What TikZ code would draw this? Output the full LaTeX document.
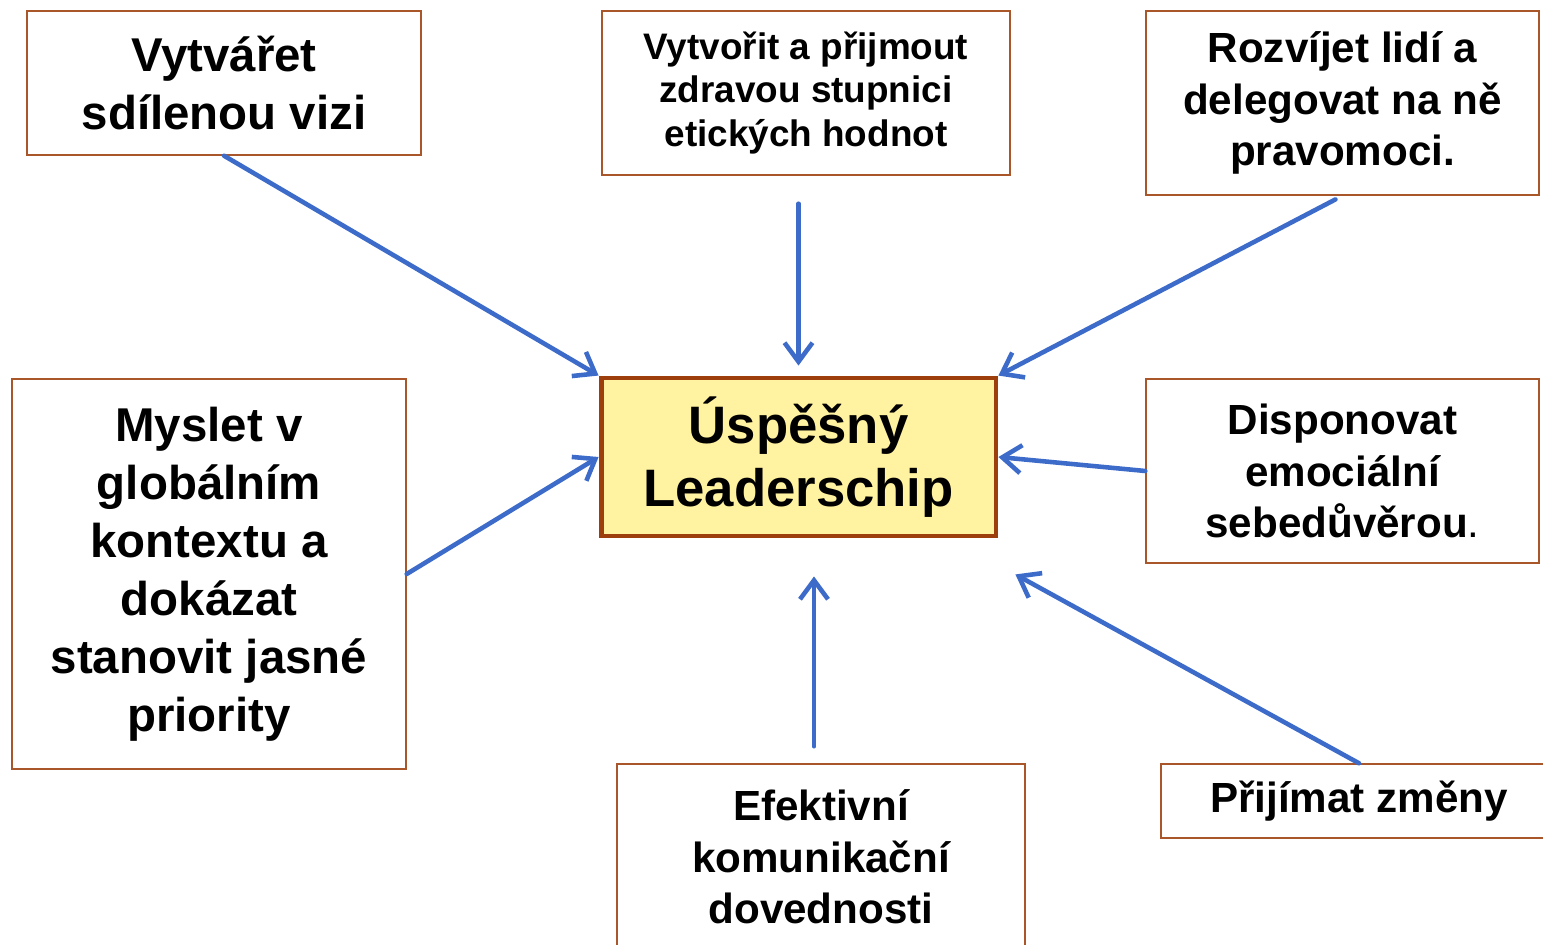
\documentclass[tikz,border=0pt]{standalone}
\usepackage{fontspec}
\setmainfont{Liberation Sans}
\usepackage{xcolor}
\usepackage{tikz}
\usetikzlibrary{arrows.meta,positioning,calc}
\definecolor{hubfill}{HTML}{FFF2A0}
\definecolor{hubline}{HTML}{9C3F0C}
\definecolor{boxline}{HTML}{A8562A}
\definecolor{lineblue}{HTML}{3C6BC9}

\begin{document}
\begin{tikzpicture}[
  x=0.02cm, y=-0.02cm,
  font=\bfseries,
  box/.style={draw=boxline, line width=0.85pt, align=center, inner sep=2pt},
  hub/.style={draw=hubline, line width=2.8pt, fill=hubfill, align=center, inner sep=2pt},
  big/.style={font=\bfseries\fontsize{27}{33}\selectfont},
  mid/.style={font=\bfseries\fontsize{24}{29.3}\selectfont},
  small/.style={font=\bfseries\fontsize{21}{25}\selectfont},
  arrow/.style={-{Straight Barb[length=3.8mm,width=5.6mm]}, line width=2.6pt, lineblue, line cap=round}
]
\useasboundingbox (0,0) rectangle (1543,945);
\node[hub, minimum width=7.9cm, minimum height=3.16cm, font=\bfseries\fontsize{30}{35.5}\selectfont] (lead) at (798.5,457) {Úspěšný\\Leaderschip};
\node[box, big, minimum width=7.88cm, minimum height=2.88cm] (vis) at (224,83) {Vytvářet\\sdílenou vizi};
\node[box, small, minimum width=8.16cm, minimum height=3.28cm] (eth) at (806,93) {Vytvořit a přijmout\\zdravou stupnici\\etických hodnot};
\node[box, mid, minimum width=7.86cm, minimum height=3.68cm] (dev) at (1342.5,103) {Rozvíjet lidí a\\delegovat na ně\\pravomoci.};
\node[box, big, minimum width=7.88cm, minimum height=7.8cm] (glob) at (209,574) {Myslet v\\globálním\\kontextu a\\dokázat\\stanovit jasné\\priority};
\node[box, mid, minimum width=7.86cm, minimum height=3.68cm] (emo) at (1342.5,471) {Disponovat\\emociální\\sebedůvěrou\textmd{.}};
\node[box, mid, minimum width=8.16cm, minimum height=3.72cm] (com) at (821,857) {Efektivní\\komunikační\\dovednosti};
\node[box, mid, minimum width=7.92cm, minimum height=1.48cm] (chg) at (1359,801) {Přijímat změny};
% free arrow tips below the hub
\coordinate (comtip) at ($(lead.south)+(15.5,38)$);
\coordinate (chgtip) at ($(lead.south east)+(17,36)$);
\draw[arrow] (vis.south) -- (lead.north west);
\draw[arrow, shorten <=0.56cm, shorten >=0.2cm] (lead.north |- eth.south) -- (lead.north);
\draw[arrow, shorten <=0.16cm] (dev.south) -- (lead.north east);
\draw[arrow] (glob.east) -- (lead.west);
\draw[arrow] (emo.west) -- (lead.east);
\draw[arrow, shorten <=0.34cm] (comtip |- com.north) -- (comtip);
\draw[arrow] (chg.north) -- (chgtip);
\end{tikzpicture}
\end{document}
